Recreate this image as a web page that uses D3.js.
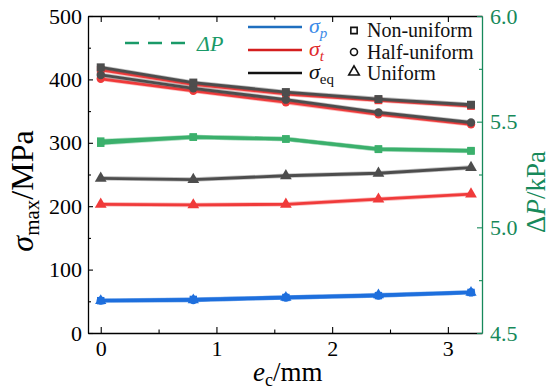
<!DOCTYPE html>
<html>
<head>
<meta charset="utf-8">
<script src="https://cdn.jsdelivr.net/npm/d3@7"></script>
<style>
  html, body { margin: 0; padding: 0; background: #fff; }
  #chart, #chart text, #chart tspan { font-family: "Liberation Serif", serif !important; }
</style>
</head>
<body>
<svg id="chart" width="550" height="390" font-family="Liberation Serif"></svg>
<script>
// Eccentricity of the core (mm)
const ec = [0, 0.8, 1.6, 2.4, 3.2];

// Stress results (MPa) for the three load distributions
const sigmaEqNonUniform  = [419, 395, 380, 369, 360];
const sigmaEqHalfUniform = [407, 386, 368, 348, 332];
const sigmaEqUniform     = [244, 242, 248, 252, 261];

const sigmaTNonUniform  = [415, 392, 377, 367, 358];
const sigmaTHalfUniform = [401, 382, 364, 345, 329];
const sigmaTUniform     = [203, 202, 203, 211, 219];

const sigmaPNonUniform  = [51, 53, 56, 59, 64];
const sigmaPHalfUniform = [51, 52, 56, 59, 64];
const sigmaPUniform     = [51, 52, 56, 60, 64];

// Pressure drop (kPa)
const deltaPA = [5.398, 5.427, 5.418, 5.369, 5.361];
const deltaPB = [5.408, 5.427, 5.418, 5.371, 5.363];

// Tick values
const xTicks = [0, 1, 2, 3];
const xMinor = [0.5, 1.5, 2.5];
const yLeftTicks = [0, 100, 200, 300, 400, 500];
const yLeftMinor = [50, 150, 250, 350, 450];
const yRightTicks = [4.5, 5.0, 5.5, 6.0];
const yRightMinor = [4.75, 5.25, 5.75];

const FONT = "Liberation Serif";
const C = {
  gray: "#4d4d4d", red: "#f03a3a", blue: "#1e6fdd", green: "#3bb06c",
  axisGreen: "#17895a", legBlue: "#1f6fbf", legRed: "#d41e1e",
  txtBlue: "#3d8be8", txtRed: "#e0292b", txtGreen: "#1a9a68"
};

const svg = d3.select("#chart");
const L = 88, R = 482, T = 16, B = 333;

const x = d3.scaleLinear().domain([-0.11, 3.295]).range([L, R]);
const yL = d3.scaleLinear().domain([0, 500]).range([B, T]);
const yR = d3.scaleLinear().domain([4.5, 6.0]).range([B, T]);

// ---- axes ----
function styleAxis(g, color) {
  g.attr("font-family", FONT).attr("font-size", 22);
  g.selectAll(".domain").attr("stroke", color).attr("stroke-width", 1.3);
  g.selectAll(".tick line").attr("stroke", color).attr("stroke-width", 1.1);
  g.selectAll(".tick text").attr("fill", color);
}

const gx = svg.append("g").attr("transform", `translate(0,${B})`)
  .call(d3.axisBottom(x).tickValues(xTicks).tickFormat(d3.format("d"))
    .tickSizeInner(-6).tickSizeOuter(0).tickPadding(7));
styleAxis(gx, "#000");
svg.append("g").attr("transform", `translate(0,${B})`)
  .call(d3.axisBottom(x).tickValues(xMinor).tickFormat("").tickSizeInner(-3.5).tickSizeOuter(0))
  .call(g => { g.select(".domain").remove(); styleAxis(g, "#000"); });

const gt = svg.append("g").attr("transform", `translate(0,${T})`)
  .call(d3.axisTop(x).tickValues(xTicks).tickFormat("").tickSizeInner(-6).tickSizeOuter(0));
styleAxis(gt, "#000");
svg.append("g").attr("transform", `translate(0,${T})`)
  .call(d3.axisTop(x).tickValues(xMinor).tickFormat("").tickSizeInner(-3.5).tickSizeOuter(0))
  .call(g => { g.select(".domain").remove(); styleAxis(g, "#000"); });

const gl = svg.append("g").attr("transform", `translate(${L},0)`)
  .call(d3.axisLeft(yL).tickValues(yLeftTicks).tickFormat(d3.format("d"))
    .tickSizeInner(-5).tickSizeOuter(0).tickPadding(6));
styleAxis(gl, "#000");
svg.append("g").attr("transform", `translate(${L},0)`)
  .call(d3.axisLeft(yL).tickValues(yLeftMinor).tickFormat("").tickSizeInner(-3).tickSizeOuter(0))
  .call(g => { g.select(".domain").remove(); styleAxis(g, "#000"); });

const gr = svg.append("g").attr("transform", `translate(${R},0)`)
  .call(d3.axisRight(yR).tickValues(yRightTicks).tickFormat(d3.format(".1f"))
    .tickSizeInner(-5).tickSizeOuter(0).tickPadding(8));
styleAxis(gr, C.axisGreen);
svg.append("g").attr("transform", `translate(${R},0)`)
  .call(d3.axisRight(yR).tickValues(yRightMinor).tickFormat("").tickSizeInner(-3).tickSizeOuter(0))
  .call(g => { g.select(".domain").remove(); styleAxis(g, C.axisGreen); });

// ---- series ----
function drawSeries(values, yScale, color, symbol, size, width) {
  const pts = ec.map((e, i) => [x(e), yScale(values[i])]);
  const g = svg.append("g");
  g.append("path").attr("d", d3.line()(pts)).attr("fill", "none")
    .attr("stroke", color).attr("stroke-opacity", 0.35).attr("stroke-width", width + 1.6)
    .attr("stroke-linejoin", "round");
  g.append("path").attr("d", d3.line()(pts)).attr("fill", "none")
    .attr("stroke", color).attr("stroke-width", width).attr("stroke-linejoin", "round");
  g.selectAll("path.m").data(pts).join("path").attr("class", "m")
    .attr("transform", d => `translate(${d[0]},${d[1]})`)
    .attr("d", d3.symbol().type(symbol).size(size)).attr("fill", color);
}

drawSeries(deltaPB, yR, C.green, d3.symbolSquare, 56, 3);
drawSeries(deltaPA, yR, C.green, d3.symbolSquare, 56, 3);

drawSeries(sigmaTUniform, yL, C.red, d3.symbolTriangle, 60, 2.8);
drawSeries(sigmaEqUniform, yL, C.gray, d3.symbolTriangle, 60, 2.8);

drawSeries(sigmaTHalfUniform, yL, C.red, d3.symbolCircle, 55, 2.8);
drawSeries(sigmaTNonUniform, yL, C.red, d3.symbolSquare, 60, 2.8);
drawSeries(sigmaEqHalfUniform, yL, C.gray, d3.symbolCircle, 55, 2.8);
drawSeries(sigmaEqNonUniform, yL, C.gray, d3.symbolSquare, 64, 2.8);

drawSeries(sigmaPUniform, yL, C.blue, d3.symbolTriangle, 55, 2.8);
drawSeries(sigmaPHalfUniform, yL, C.blue, d3.symbolCircle, 55, 2.8);
drawSeries(sigmaPNonUniform, yL, C.blue, d3.symbolSquare, 55, 2.8);

// ---- legend ----
const leg = svg.append("g");
leg.append("line").attr("x1", 125).attr("x2", 190).attr("y1", 43).attr("y2", 43)
  .attr("stroke", C.txtGreen).attr("stroke-width", 2.6).attr("stroke-dasharray", "14,9");
leg.append("text").attr("x", 197).attr("y", 51).attr("font-size", 22)
  .attr("font-style", "italic").attr("fill", C.txtGreen).text("ΔP");

const lineLeg = [
  { y: 27, color: C.legBlue, txt: C.txtBlue, sub: "p", subItalic: true },
  { y: 50, color: C.legRed, txt: C.txtRed, sub: "t", subItalic: true },
  { y: 73, color: "#111", txt: "#111", sub: "eq", subItalic: false }
];
lineLeg.forEach(d => {
  leg.append("line").attr("x1", 248).attr("x2", 302).attr("y1", d.y).attr("y2", d.y)
    .attr("stroke", d.color).attr("stroke-width", 2.6);
  const t = leg.append("text").attr("x", 309).attr("y", d.y + 6).attr("fill", d.txt)
    .attr("font-size", 22);
  t.append("tspan").attr("font-style", "italic").text("σ");
  t.append("tspan").attr("font-size", 15).attr("dy", 5)
    .attr("font-style", d.subItalic ? "italic" : "normal").text(d.sub);
});

const symLeg = [
  { y: 30.5, type: d3.symbolSquare, size: 40, label: "Non-uniform", base: 37 },
  { y: 52, type: d3.symbolCircle, size: 38, label: "Half-uniform", base: 58.5 },
  { y: 72, type: d3.symbolTriangle, size: 48, label: "Uniform", base: 80 }
];
symLeg.forEach(d => {
  leg.append("path").attr("transform", `translate(354,${d.y})`)
    .attr("d", d3.symbol().type(d.type).size(d.size))
    .attr("fill", "none").attr("stroke", "#111").attr("stroke-width", 1.6);
  leg.append("text").attr("x", 367).attr("y", d.base).attr("font-size", 20)
    .attr("fill", "#111").text(d.label);
});

// ---- axis titles ----
const xt = svg.append("text").attr("x", 253).attr("y", 381).attr("font-size", 27).attr("fill", "#000");
xt.append("tspan").attr("font-style", "italic").text("e");
xt.append("tspan").attr("font-size", 18).attr("dy", 5).text("c");
xt.append("tspan").attr("dy", -5).text("/mm");

const ylt = svg.append("text").attr("transform", "translate(33,191) rotate(-90)")
  .attr("text-anchor", "middle").attr("font-size", 32).attr("fill", "#000");
ylt.append("tspan").attr("font-style", "italic").text("σ");
ylt.append("tspan").attr("font-size", 21).attr("dy", 6).text("max");
ylt.append("tspan").attr("dy", -6).text("/MPa");

const yrt = svg.append("text").attr("transform", "translate(545,192) rotate(-90)")
  .attr("text-anchor", "middle").attr("font-size", 27).attr("fill", C.axisGreen);
yrt.append("tspan").text("Δ");
yrt.append("tspan").attr("font-style", "italic").text("P");
yrt.append("tspan").text("/kPa");

// serif face on every label
svg.selectAll("text, tspan").attr("font-family", FONT).style("font-family", FONT, "important");
</script>
</body>
</html>
